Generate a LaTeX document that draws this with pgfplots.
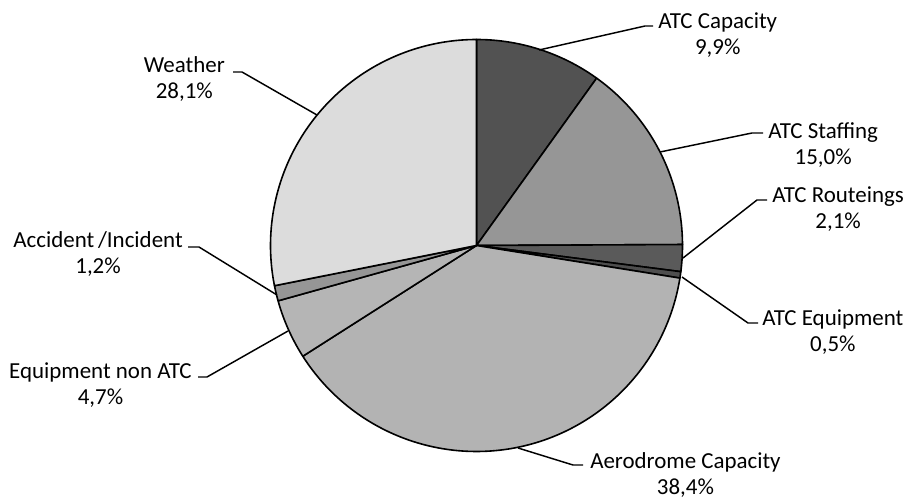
\documentclass[border=0pt]{standalone}
\usepackage{pgfplots}
\pgfplotsset{compat=1.18}
\usepackage{fontspec}
\setmainfont{Carlito}
\definecolor{cCap}{HTML}{525252}
\definecolor{cStaff}{HTML}{969696}
\definecolor{cRout}{HTML}{5A5A5A}
\definecolor{cEquip}{HTML}{4E4E4E}
\definecolor{cAero}{HTML}{B3B3B3}
\definecolor{cNon}{HTML}{B5B5B5}
\definecolor{cAcc}{HTML}{969696}
\definecolor{cWeather}{HTML}{DCDCDC}
\tikzset{lbl/.style={font=\fontsize{17.2}{20}\selectfont, align=center, inner sep=0pt}}
% slice: #1 cumulative start (%), #2 value (%), #3 colour
\newcommand\slice[3]{%
  \pgfmathsetmacro\angA{90-3.6036036*(#1+#2)}%
  \pgfmathsetmacro\angB{90-3.6036036*(#1)}%
  \edef\doslice{\noexpand\addplot[fill=#3, draw=black, line width=1.2pt, line join=round,
     domain=\angA:\angB, samples=120, variable=\noexpand\t]
     ({476.5+206*cos(\noexpand\t)},{254.5+206*sin(\noexpand\t)}) -- (axis cs:476.5,254.5) -- cycle;}%
  \doslice
}
\begin{document}
\begin{tikzpicture}
\begin{axis}[
  width=681pt, height=375pt, scale only axis,
  xmin=0, xmax=908, ymin=0, ymax=500,
  hide axis, clip=false,
]
\path (rel axis cs:0,0) rectangle (rel axis cs:1,1);
\slice{0}{9.9}{cCap}
\slice{9.9}{15.0}{cStaff}
\slice{24.9}{2.1}{cRout}
\slice{27.0}{0.5}{cEquip}
\slice{27.5}{38.4}{cAero}
\slice{65.9}{4.7}{cNon}
\slice{70.6}{1.2}{cAcc}
\slice{71.8}{28.1}{cWeather}
% leader lines
\addplot[black, line width=1.1pt] coordinates {(539,450) (645,474) (653,474)};
\addplot[black, line width=1.1pt] coordinates {(660,348) (752,367) (763,367)};
\addplot[black, line width=1.1pt] coordinates {(683,242) (757,300) (767,300)};
\addplot[black, line width=1.1pt] coordinates {(682,223) (748,177) (758,177)};
\addplot[black, line width=1.1pt] coordinates {(518,52) (573,35) (583,35)};
\addplot[black, line width=1.1pt] coordinates {(288,169) (207,123) (198,123)};
\addplot[black, line width=1.1pt] coordinates {(277,205) (199,253) (188,253)};
\addplot[black, line width=1.1pt] coordinates {(317,385) (242,428) (233,428)};
% labels
\node[lbl, anchor=west] at (axis cs:658,465) {ATC Capacity\\9,9\%};
\node[lbl, anchor=west] at (axis cs:768,355) {ATC Staffing\\15,0\%};
\node[lbl, anchor=west] at (axis cs:772,291) {ATC Routeings\\2,1\%};
\node[lbl, anchor=west] at (axis cs:762,168) {ATC Equipment\\0,5\%};
\node[lbl, anchor=west] at (axis cs:590,25) {Aerodrome Capacity\\38,4\%};
\node[lbl, anchor=east] at (axis cs:192,115) {Equipment non ATC\\4,7\%};
\node[lbl, anchor=east] at (axis cs:183,246) {Accident\,/Incident\\1,2\%};
\node[lbl, anchor=east] at (axis cs:225,421) {Weather\\28,1\%};
\end{axis}
\end{tikzpicture}
\end{document}
